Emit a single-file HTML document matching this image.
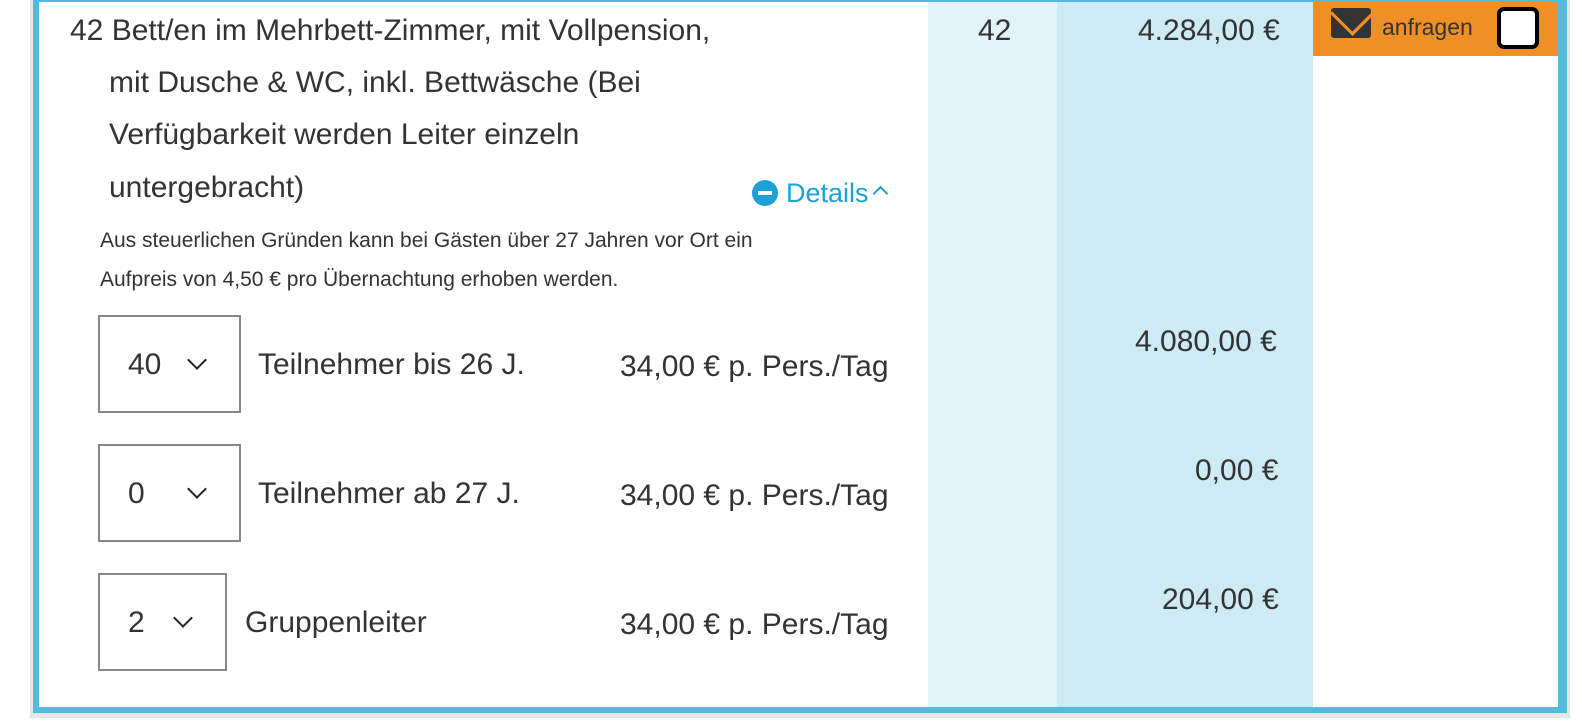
<!DOCTYPE html>
<html><head><meta charset="utf-8"><style>
body{margin:0;width:1582px;height:726px;background:#fff;position:relative;overflow:hidden;font-family:"Liberation Sans Narrow","Liberation Sans",sans-serif;color:#333}
div{position:absolute}
.t{white-space:nowrap;font-size:30px;line-height:36px}
.s{white-space:nowrap;font-size:21px;line-height:26px}
.sel{border:2px solid #888;background:#fff;box-sizing:border-box}
.chev{width:12px;height:12px;border-right:2.5px solid #222;border-bottom:2.5px solid #222;transform:rotate(45deg)}
</style></head><body>
<div style="left:30px;top:0;width:1540px;height:718px;background:#e6e6e6"></div>
<div style="left:33px;top:-6px;width:1534px;height:719px;background:#55b9de"></div>
<div style="left:39px;top:2px;width:1519px;height:705px;background:#fff"></div>
<div style="left:928px;top:2px;width:129px;height:705px;background:#e3f3fa"></div>
<div style="left:1057px;top:2px;width:256px;height:705px;background:#cdeaf5"></div>
<div style="left:1313px;top:2px;width:245px;height:54px;background:#f08f26"></div>
<div style="left:1331px;top:8px;width:40px;height:30px;background:#333;border-radius:3px"></div>
<div style="left:1333px;top:2px;width:26px;height:26px;border-right:3px solid #f08f26;border-bottom:3px solid #f08f26;transform:translate(4px,-2px) rotate(45deg) scaleX(1.1)"></div>
<div class="s" style="left:1382px;top:14px;font-size:23px;color:#333">anfragen</div>
<div style="left:1497px;top:7px;width:34px;height:34px;border:4px solid #000;border-radius:7px;background:#fff"></div>

<div class="t" style="left:70px;top:13px">42 Bett/en im Mehrbett-Zimmer, mit Vollpension,</div>
<div class="t" style="left:109px;top:65px">mit Dusche &amp; WC, inkl. Bettwäsche (Bei</div>
<div class="t" style="left:109px;top:117px">Verfügbarkeit werden Leiter einzeln</div>
<div class="t" style="left:109px;top:170px">untergebracht)</div>
<div style="left:752px;top:180px;width:26px;height:26px;border-radius:50%;background:#1da1d8"></div>
<div style="left:758px;top:191px;width:14px;height:4px;background:#fff"></div>
<div class="t" style="left:786px;top:175px;font-size:27px;color:#1da1d8">Details</div>
<div style="left:875px;top:188px;width:9px;height:9px;border-left:2.5px solid #1da1d8;border-top:2.5px solid #1da1d8;transform:rotate(45deg)"></div>
<div class="s" style="left:100px;top:228px">Aus steuerlichen Gründen kann bei Gästen über 27 Jahren vor Ort ein</div>
<div class="s" style="left:100px;top:267px">Aufpreis von 4,50 € pro Übernachtung erhoben werden.</div>

<div class="t" style="left:978px;top:13px">42</div>
<div class="t" style="left:1138px;top:13px">4.284,00 €</div>

<div class="sel" style="left:98px;top:315px;width:143px;height:98px"></div>
<div class="t" style="left:128px;top:347px">40</div><div class="chev" style="left:190px;top:353px"></div>
<div class="t" style="left:258px;top:347px">Teilnehmer bis 26 J.</div>
<div class="t" style="left:620px;top:349px">34,00 € p. Pers./Tag</div>
<div class="t" style="left:1135px;top:324px">4.080,00 €</div>

<div class="sel" style="left:98px;top:444px;width:143px;height:98px"></div>
<div class="t" style="left:128px;top:476px">0</div><div class="chev" style="left:190px;top:482px"></div>
<div class="t" style="left:258px;top:476px">Teilnehmer ab 27 J.</div>
<div class="t" style="left:620px;top:478px">34,00 € p. Pers./Tag</div>
<div class="t" style="left:1195px;top:453px">0,00 €</div>

<div class="sel" style="left:98px;top:573px;width:129px;height:98px"></div>
<div class="t" style="left:128px;top:605px">2</div><div class="chev" style="left:176px;top:611px"></div>
<div class="t" style="left:245px;top:605px">Gruppenleiter</div>
<div class="t" style="left:620px;top:607px">34,00 € p. Pers./Tag</div>
<div class="t" style="left:1162px;top:582px">204,00 €</div>
</body></html>
